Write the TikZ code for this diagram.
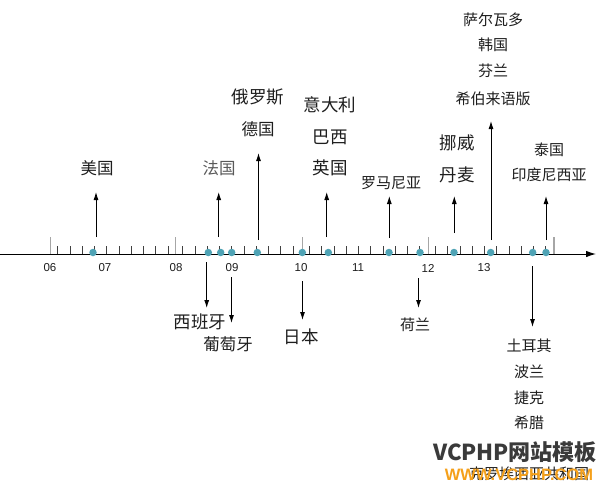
\documentclass[tikz,border=0pt]{standalone}
\usepackage{fontspec}
\setmainfont{Liberation Sans}
\newfontfamily\cjk{Noto Sans CJK SC}
\usetikzlibrary{arrows.meta}
\definecolor{dotc}{HTML}{4FA3B5}
\definecolor{txt}{HTML}{1E1E1E}
\definecolor{wmorange}{HTML}{F5A01A}
\definecolor{wmgray}{HTML}{3A3A3A}
\tikzset{
  axisline/.style={line width=1pt, -{Latex[length=10pt,width=6.5pt]}},
  majortick/.style={draw=gray!70, line width=1.3pt},
  minortick/.style={draw=black!75, line width=0.6pt},
  yeartext/.style={font=\fontsize{11.5}{11.5}\selectfont, text=txt, inner sep=0pt},
  evdot/.style={circle, fill=dotc, minimum size=7.5pt, inner sep=0pt},
  lab/.style={font=\cjk\fontsize{15}{15}\selectfont, text=txt, inner sep=0pt},
  midlab/.style={font=\cjk\fontsize{16.5}{16.5}\selectfont, text=txt, inner sep=0pt},
  biglab/.style={font=\cjk\fontsize{17.5}{17.5}\selectfont, text=txt, inner sep=0pt},
  conn/.style={line width=0.9pt, -{Latex[length=8pt,width=5pt]}},
}
\begin{document}
\begin{tikzpicture}[x=1pt,y=-1pt]
\useasboundingbox[fill=white] (0,0) rectangle (602,490);
% axis
\coordinate (axL) at (0,254);
\coordinate (axR) at (596,254);
\draw[axisline] (axL) -- (axR);
% major ticks
\foreach \x in {50.7,175.7,302.3,428.3,554}{
  \draw[majortick] (\x,254) -- (\x,237);
}
% minor ticks
\foreach \s in {50.7,175.7,302.3,428.3}{
  \foreach \k in {0,...,9}{
    \draw[minortick] ({\s+7+\k*12.25},254) -- ({\s+7+\k*12.25},246);
  }
}
% year labels
\node[yeartext] (y06) at (50,268) {06};
\node[yeartext] (y07) at (105,268) {07};
\node[yeartext] (y08) at (176,268) {08};
\node[yeartext] (y09) at (232,268) {09};
\node[yeartext] (y10) at (301,268) {10};
\node[yeartext] (y11) at (358,268) {11};
\node[yeartext] (y12) at (428,268) {12};
\node[yeartext] (y13) at (484,268) {13};
% dots
\node[evdot] (d1) at (93,252.5) {};
\node[evdot] (d2) at (208.3,252.5) {};
\node[evdot] (d3) at (220.7,252.5) {};
\node[evdot] (d4) at (231.7,252.5) {};
\node[evdot] (d5) at (257.3,252.5) {};
\node[evdot] (d6) at (302.3,252.5) {};
\node[evdot] (d7) at (328.3,252.5) {};
\node[evdot] (d8) at (389,252.5) {};
\node[evdot] (d9) at (420,252.5) {};
\node[evdot] (d10) at (454,252.5) {};
\node[evdot] (d11) at (490.7,252.5) {};
\node[evdot] (d12) at (532.7,252.5) {};
\node[evdot] (d13) at (546,252.5) {};
% upper labels
\node[midlab] (usa) at (97,168) {美国};
\node[midlab, text=black!65] (fra) at (219,168) {法国};
\node[biglab] (rus) at (258,97) {俄罗斯};
\node[midlab] (ger) at (258,129) {德国};
\node[biglab] (ita) at (330,105) {意大利};
\node[biglab] (bra) at (330,137) {巴西};
\node[biglab] (uk) at (330,168) {英国};
\node[lab] (rom) at (391,183) {罗马尼亚};
\node[biglab] (nor) at (457,143) {挪威};
\node[biglab] (den) at (457,175) {丹麦};
\node[lab] (sal) at (493,20) {萨尔瓦多};
\node[lab] (kor) at (493,45) {韩国};
\node[lab] (fin) at (493,71) {芬兰};
\node[lab] (heb) at (493,99) {希伯来语版};
\node[lab] (tha) at (549,150) {泰国};
\node[lab] (idn) at (549,175) {印度尼西亚};
% lower labels
\node[biglab] (esp) at (200,322) {西班牙};
\node[midlab] (por) at (228,344) {葡萄牙};
\node[biglab] (jpn) at (301,337) {日本};
\node[lab] (ned) at (415,325) {荷兰};
\node[lab] (tur) at (529,346) {土耳其};
\node[lab] (pol) at (529,372) {波兰};
\node[lab] (cze) at (529,398) {捷克};
\node[lab] (gre) at (529,423) {希腊};
\node[lab] (cro) at (529,474) {克罗埃西亚共和国};
% connector ends
\coordinate (s1) at (96,237);    \coordinate (e1) at (96,192);
\coordinate (s2) at (218.7,237); \coordinate (e2) at (218.7,192);
\coordinate (s3) at (258.5,240); \coordinate (e3) at (258.5,153);
\coordinate (s4) at (326.7,237); \coordinate (e4) at (326.7,192);
\coordinate (s5) at (389.3,238); \coordinate (e5) at (389.3,196);
\coordinate (s6) at (454.3,233); \coordinate (e6) at (454.3,196);
\coordinate (s7) at (491,240);   \coordinate (e7) at (491,121);
\coordinate (s8) at (546,240);   \coordinate (e8) at (546,196);
\coordinate (t1) at (206.7,262); \coordinate (f1) at (206.7,308);
\coordinate (t2) at (231.5,277); \coordinate (f2) at (231.5,323);
\coordinate (t3) at (302.5,281); \coordinate (f3) at (302.5,320);
\coordinate (t4) at (418.5,278); \coordinate (f4) at (418.5,308);
\coordinate (t5) at (532.5,266); \coordinate (f5) at (532.5,327);
% upward connectors
\draw[conn] (s1) -- (e1);
\draw[conn] (s2) -- (e2);
\draw[conn] (s3) -- (e3);
\draw[conn] (s4) -- (e4);
\draw[conn] (s5) -- (e5);
\draw[conn] (s6) -- (e6);
\draw[conn] (s7) -- (e7);
\draw[conn] (s8) -- (e8);
% downward connectors
\draw[conn] (t1) -- (f1);
\draw[conn] (t2) -- (f2);
\draw[conn] (t3) -- (f3);
\draw[conn] (t4) -- (f4);
\draw[conn] (t5) -- (f5);
% watermark
\node[inner sep=0pt, text=wmgray, font=\cjk\bfseries\fontsize{22}{22}\selectfont] (wm1) at (515,452) {VCPHP网站模板};
\node[inner sep=0pt, text=wmorange, font=\bfseries\fontsize{16.5}{16.5}\selectfont] (wm2) at (519,475) {WWW.VCPHP.COM};
\end{tikzpicture}
\end{document}
